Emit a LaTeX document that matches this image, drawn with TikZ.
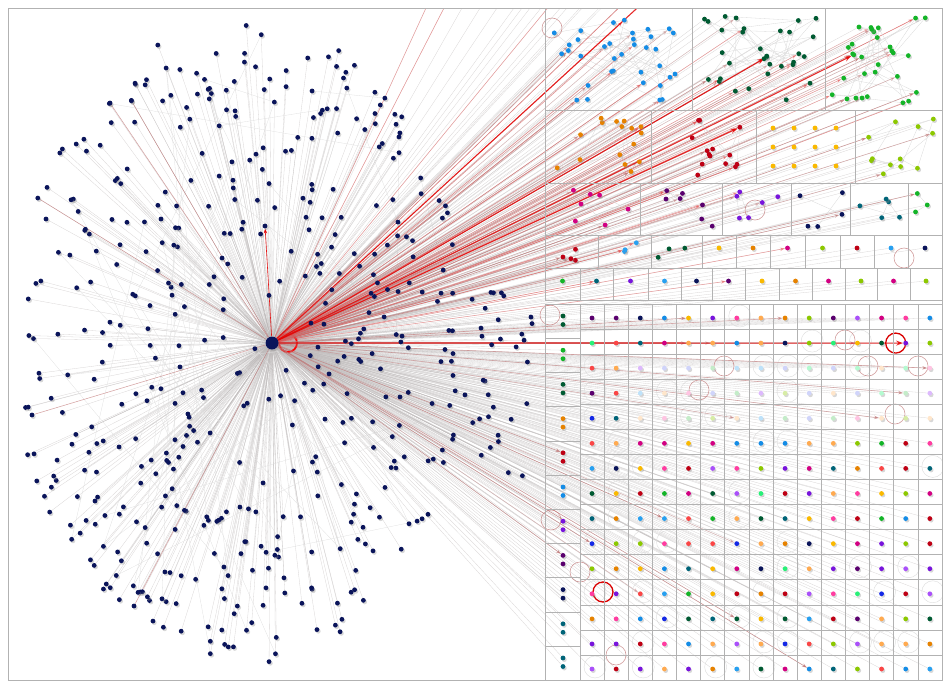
\documentclass[tikz,border=0pt]{standalone}
\usetikzlibrary{arrows.meta,shadows}
\definecolor{navy}{RGB}{10,20,90}
\definecolor{cblue}{RGB}{20,140,230}
\definecolor{cdkgreen}{RGB}{0,90,50}
\definecolor{cgreen}{RGB}{20,180,40}
\definecolor{corange}{RGB}{230,130,0}
\definecolor{cred}{RGB}{190,0,20}
\definecolor{cgold}{RGB}{250,185,0}
\definecolor{clime}{RGB}{140,200,0}
\definecolor{cmagenta}{RGB}{210,0,130}
\definecolor{cpurple}{RGB}{90,0,110}
\definecolor{cviolet}{RGB}{120,20,220}
\definecolor{cteal}{RGB}{0,100,120}
\definecolor{csky}{RGB}{40,160,240}
\definecolor{cpink}{RGB}{255,60,160}
\definecolor{cmint}{RGB}{40,240,120}
\definecolor{cbright}{RGB}{20,40,230}
\definecolor{clilac}{RGB}{170,80,250}
\definecolor{ccoral}{RGB}{250,70,70}
\definecolor{cpeach}{RGB}{255,170,80}
\definecolor{edgered}{RGB}{228,78,78}
\definecolor{edgebrown}{RGB}{190,115,115}
\definecolor{spokegrey}{RGB}{190,186,186}
\pgfdeclarelayer{spokes}
\pgfdeclarelayer{links}
\pgfsetlayers{spokes,links,main}
\pgfmathdeclarerandomlist{vivid}{{cblue}{cdkgreen}{cgreen}{corange}{cred}{cgold}{clime}{cmagenta}{cpurple}{cviolet}{cteal}{csky}{cpink}{cmint}{cbright}{clilac}{ccoral}{cpeach}{navy}}
\pgfmathdeclarerandomlist{pale}{{clilac!40}{cmint!35}{csky!30}{cpink!30}{cpeach!30}{clime!35}{cbright!20}{cgreen!25}}
\tikzset{
  dot/.style={circle, inner sep=0pt, minimum size=4.8pt,
    drop shadow={shadow xshift=1.3pt, shadow yshift=-1.6pt, fill=black!45, opacity=0.35}},
  navydot/.style={dot, fill=navy},
  spoke/.style={draw=spokegrey, line width=0.3pt, opacity=0.6},
  crosslink/.style={draw=black!12, line width=0.3pt},
  inlink/.style={draw=black!15, line width=0.3pt},
  brownlink/.style={draw=edgebrown, line width=0.5pt, opacity=0.7},
  redlink/.style={line width=0.6pt, -{Stealth[length=5pt,width=3.5pt]}},
  strongred/.style={draw=red!90!black, line width=1.1pt, opacity=0.8, -{Stealth[length=7pt,width=5pt]}},
  cell/.style={draw=black!30, line width=0.6pt},
  frame/.style={draw=black!30, line width=0.8pt},
  loopring/.style={draw=black!14, line width=0.4pt},
  loopbrown/.style={draw=edgebrown, line width=0.6pt, opacity=0.7},
  redring/.style={draw=red!85!black, line width=1.3pt},
  hubloop/.style={draw=red, line width=1.8pt}
}
% box of one group, dots at random places
\newcommand{\clusterbox}[7]{% name, x1, y1, x2, y2, count, colour
  \draw[cell] (#2,#3) rectangle (#4,#5);
  \foreach \k in {1,...,#6}{
    \pgfmathsetmacro\px{#2+7+(#4-#2-14)*rnd}
    \pgfmathsetmacro\py{#3+7+(#5-#3-14)*rnd}
    \node[dot, fill=#7] (#1-\k) at (\px,\py) {};
  }
}
% box of two dots, one above the other
\newcommand{\pairbox}[7]{% name, x1, y1, x2, y2, colour, second size
  \draw[cell] (#2,#3) rectangle (#4,#5);
  \node[dot, fill=#6] (#1-1) at ({(#2+#4)/2},{#3+13}) {};
  \node[dot, fill=#6, minimum size=#7] (#1-2) at ({(#2+#4)/2},{#3+21+(#7-4.8pt)/2pt}) {};
}
\newcommand{\clusterlist}{blu/35/0.4,dkg/32/0.35,grn/30/0.5,org/16/0.2,crd/14/0.35,lim/12/0.3,mag/7/0.2,pur/7/0.3,vio/6/0.3,nav/5/0.4,tea/5/0.2,lgr/3/0.6,rda/4/0.4,bla/3/0.3,dga/3/0.3}
\newcommand{\pairlist}{goa,ora,maa,lia,rdb,ska,nva,grb,teb,vib,skb,nvb,pub,gob,orb,mab,lib,mac,lic}
\begin{document}
\begin{tikzpicture}[x=1pt,y=-1pt]
\useasboundingbox (0,0) rectangle (950,688);
\draw[frame] (8,8) rectangle (942,680);
\clip (8,8) rectangle (942,680);
\pgfmathsetseed{2718}

% hub of the left group
\node[navydot, minimum size=13pt] (hub) at (272,343) {};

% left group
\foreach \i in {1,...,470}{
  \pgfmathsetmacro\ang{360*rnd}
  \pgfmathsetmacro\rad{rnd^0.45}
  \node[navydot] (d\i) at ({241+228*\rad*cos(\ang)},{340+325*\rad*sin(\ang)}) {};
}
\foreach \i in {1,...,40}{
  \node[navydot] (e\i) at ({440+95*rnd},{290+190*rnd}) {};
}
\node[navydot] (up) at (265,226) {};
\node[navydot] (far1) at (110,103) {};
\node[navydot] (far2) at (32,415) {};
\node[navydot] (far3) at (134,606) {};

% top right groups
\clusterbox{blu}{545}{8}{692}{110}{35}{cblue}
\clusterbox{dkg}{692}{8}{825}{110}{32}{cdkgreen}
\clusterbox{grn}{825}{8}{942}{110}{30}{cgreen}
\clusterbox{org}{545}{110}{651}{183}{16}{corange}
\clusterbox{crd}{651}{110}{756}{183}{14}{cred}
\draw[cell] (756,110) rectangle (855,183);
\foreach \a in {0,...,3}{
  \foreach \b in {0,...,2}{
    \node[dot, fill=cgold] (gld-\a-\b) at ({773+21*\a},{128+19*\b}) {};
  }
}
\clusterbox{lim}{855}{110}{942}{183}{12}{clime}
\clusterbox{mag}{545}{183}{640}{235}{7}{cmagenta}
\clusterbox{pur}{640}{183}{722}{235}{7}{cpurple}
\clusterbox{vio}{722}{183}{791}{235}{6}{cviolet}
\clusterbox{nav}{791}{183}{850}{235}{5}{navy}
\clusterbox{tea}{850}{183}{908}{235}{5}{cteal}
\clusterbox{lgr}{908}{183}{942}{235}{3}{cgreen}
\clusterbox{rda}{545}{235}{598}{268}{4}{cred}
\clusterbox{bla}{598}{235}{651}{268}{3}{csky}
\clusterbox{dga}{651}{235}{702}{268}{3}{cdkgreen}
\pairbox{goa}{702}{235}{736}{268}{cgold}{4.8pt}
\pairbox{ora}{736}{235}{770}{268}{corange}{4.8pt}
\pairbox{maa}{770}{235}{805}{268}{cmagenta}{4.8pt}
\pairbox{lia}{805}{235}{840}{268}{clime}{4.8pt}
\pairbox{rdb}{840}{235}{874}{268}{cred}{4.8pt}
\pairbox{ska}{874}{235}{908}{268}{csky}{4.8pt}
\pairbox{nva}{908}{235}{942}{268}{navy}{4.8pt}
\pairbox{grb}{545}{268}{580}{300}{cgreen}{4.8pt}
\pairbox{teb}{580}{268}{613}{300}{cteal}{4.8pt}
\pairbox{vib}{613}{268}{648}{300}{cviolet}{4.8pt}
\pairbox{skb}{648}{268}{681}{300}{csky}{4.8pt}
\pairbox{nvb}{681}{268}{712}{300}{navy}{4.8pt}
\pairbox{pub}{712}{268}{745}{300}{cpurple}{4.8pt}
\pairbox{gob}{745}{268}{779}{300}{cgold}{13pt}
\pairbox{orb}{779}{268}{812}{300}{corange}{13pt}
\pairbox{mab}{812}{268}{845}{300}{cmagenta}{4.8pt}
\pairbox{lib}{845}{268}{877}{300}{clime}{13pt}
\pairbox{mac}{877}{268}{910}{300}{cmagenta}{4.8pt}
\pairbox{lic}{910}{268}{942}{300}{clime}{4.8pt}

% left column of pairs
\foreach \r/\hue in {0/cdkgreen,1/cgreen,2/cdkgreen,3/corange,4/cred,5/cblue,6/cviolet,7/cpurple,8/navy,9/cteal,10/cteal}{
  \pgfmathsetmacro\cy{304+34.2*\r}
  \draw[cell] (545,\cy) rectangle (580,{\cy+34.2});
  \node[dot, fill=\hue] (lc-\r-1) at (563,{\cy+12}) {};
  \node[dot, fill=\hue] (lc-\r-2) at (563,{\cy+20.5}) {};
}

% grid of single dots
\foreach \r in {0,...,14}{
  \foreach \c in {0,...,14}{
    \pgfmathsetmacro\cx{580+24.13*\c}
    \pgfmathsetmacro\cy{304+25.07*\r}
    \pgfmathtruncatemacro\ispale{(\r>1)&&(\r<5)&&(\c>1)}
    \ifnum\ispale=1 \pgfmathrandomitem{\hue}{pale}\else\pgfmathrandomitem{\hue}{vivid}\fi
    \draw[cell] (\cx,\cy) rectangle ({\cx+24.13},{\cy+25.07});
    \node[dot, fill=\hue] (g-\r-\c) at ({\cx+12},{\cy+14}) {};
  }
}

% grey spokes from the hub
\begin{pgfonlayer}{spokes}
  \clip (8,8) rectangle (942,680);
  \foreach \i in {1,...,470}{
    \draw[spoke] (hub) -- (d\i);
  }
  \foreach \i in {1,...,40}{
    \draw[spoke] (hub) -- (e\i);
  }
  \foreach \j in {1,...,45}{
    \pgfmathtruncatemacro\ea{1+469*rnd}
    \pgfmathtruncatemacro\eb{1+469*rnd}
    \draw[crosslink] (d\ea) -- (d\eb);
  }
  \foreach \nm/\n/\share in \clusterlist{
    \foreach \k in {1,...,\n}{
      \draw[spoke] (hub) -- (\nm-\k);
    }
  }
  \foreach \nm in \pairlist{
    \draw[spoke] (hub) -- (\nm-1);
    \draw[spoke] (hub) -- (\nm-2);
  }
  \foreach \a in {0,...,3}{
    \foreach \b in {0,...,2}{
      \draw[spoke] (hub) -- (gld-\a-\b);
    }
  }
  \foreach \r in {0,...,10}{
    \draw[spoke] (hub) -- (lc-\r-1);
    \draw[spoke] (hub) -- (lc-\r-2);
  }
  \foreach \r in {0,...,14}{
    \foreach \c in {0,...,14}{
      \draw[spoke] (hub) -- (g-\r-\c);
    }
  }
\end{pgfonlayer}

% red links and loops
\begin{pgfonlayer}{links}
  \clip (8,8) rectangle (942,680);
  \foreach \i in {1,...,470}{
    \pgfmathtruncatemacro\isred{rnd<0.012}
    \ifnum\isred=1 \draw[brownlink] (hub) -- (d\i); \fi
  }
  \draw[redlink, draw=red!90!black, opacity=0.9] (hub) -- (up);
  \draw[brownlink] (hub) -- (far1);
  \draw[brownlink] (hub) -- (far2);
  \draw[brownlink] (hub) -- (far3);
  \draw[hubloop] (hub.center) ++(16,0) circle[radius=9];
  \foreach \nm/\n/\share in \clusterlist{
    \foreach \k in {1,...,\n}{
      \pgfmathtruncatemacro\isred{rnd<\share}
      \pgfmathtruncatemacro\isbrown{rnd<0.5}
      \pgfmathsetmacro\op{0.3+0.4*rnd}
      \ifnum\isred=1
        \ifnum\isbrown=1 \draw[redlink, draw=edgebrown, opacity=\op] (hub) -- (\nm-\k);
        \else \draw[redlink, draw=edgered, opacity=\op] (hub) -- (\nm-\k); \fi
      \fi
      \ifnum\k>1 \pgfmathtruncatemacro\prev{\k-1}\draw[inlink] (\nm-\prev) -- (\nm-\k); \fi
    }
  }
  \foreach \nm in \pairlist{
    \foreach \k in {1,2}{
      \pgfmathtruncatemacro\isred{rnd<0.2}
      \pgfmathsetmacro\op{0.3+0.4*rnd}
      \ifnum\isred=1 \draw[redlink, draw=edgered, opacity=\op] (hub) -- (\nm-\k); \fi
    }
  }
  \foreach \r in {0,...,10}{
    \pgfmathtruncatemacro\isred{rnd<0.3}
    \ifnum\isred=1 \draw[redlink, draw=edgebrown, opacity=0.6] (hub) -- (lc-\r-1); \fi
  }
  \foreach \r in {0,...,14}{
    \foreach \c in {0,...,14}{
      \pgfmathtruncatemacro\isred{rnd<(\r<3 ? 0.1 : 0.05)}
      \pgfmathtruncatemacro\isring{rnd<0.2}
      \pgfmathsetmacro\op{0.35+0.35*rnd}
      \ifnum\isred=1 \draw[redlink, draw=edgebrown, opacity=\op] (hub) -- (g-\r-\c); \fi
      \ifnum\isring=1 \draw[loopring] (g-\r-\c.center) ++(3,-2) circle[radius=11]; \fi
    }
  }
  \draw[strongred] (hub) -- (g-1-13);
  \draw[strongred] (hub) -- (dkg-5);
  \draw[strongred] (hub) -- (crd-3);
  \draw[strongred] (hub) -- (grn-7);
  \draw[strongred] (hub) -- (nva-2);
  \draw[redring] (g-1-13.center) ++(-10,0) circle[radius=10];
  \draw[redring] (603,592) circle[radius=10];
  \foreach \rx/\ry in {552/28,845/340,868/366,918/366,550/315,699/390,551/520,580/572,616/655,755/210,904/258,724/366,895/414}{
    \draw[loopbrown] (\rx,\ry) circle[radius=10];
  }
\end{pgfonlayer}
\end{tikzpicture}
\end{document}
